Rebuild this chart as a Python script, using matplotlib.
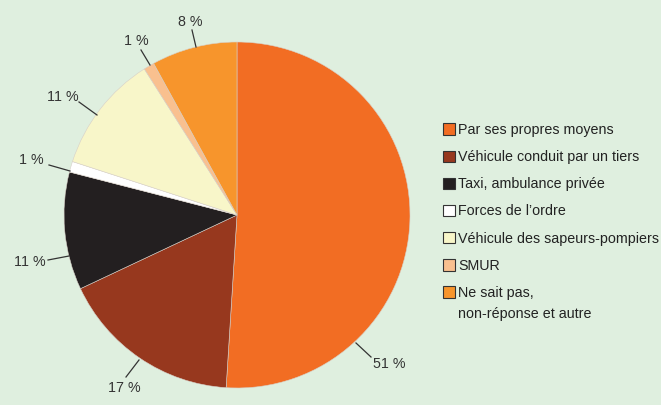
import matplotlib
matplotlib.use("Agg")
import matplotlib.pyplot as plt
from matplotlib.patches import Patch

plt.rcParams["font.family"] = ["Liberation Sans", "DejaVu Sans"]

# ── data ──────────────────────────────────────────────────────────────────────
CATEGORIES = [
    "Par ses propres moyens",
    "Véhicule conduit par un tiers",
    "Taxi, ambulance privée",
    "Forces de l\u2019ordre",
    "Véhicule des sapeurs-pompiers",
    "SMUR",
    "Ne sait pas,\nnon-réponse et autre",
]
SHARES = [51, 17, 11, 1, 11, 1, 8]
LABELS = ["51 %", "17 %", "11 %", "1 %", "11 %", "1 %", "8 %"]
COLORS = ["#f26d23", "#97381e", "#231f20", "#ffffff", "#f8f6c9", "#f9c08f", "#f7952c"]

BG = "#dfefdf"
W, H = 661, 405
CX, CY, R = 237, 215, 173  # pie centre / radius in pixels
FS = 10.3

# leader lines (pixel coords): rim point, outer point, text anchor, alignment
LEADERS = [
    ((356, 343), (371, 357), (373, 364), "left"),
    ((139, 360), (126, 377), (124, 388), "center"),
    ((69, 256), (48, 260), (46, 262), "right"),
    ((70, 171), (49, 165), (44, 160), "right"),
    ((97, 115), (79, 102), (79, 97), "right"),
    ((150, 65), (141, 50), (136, 41), "center"),
    ((196, 47), (192, 30), (190, 22), "center"),
]


def to_data(p):
    return (p[0] - CX) / R, (CY - p[1]) / R


fig = plt.figure(figsize=(W / 100, H / 100), dpi=100, facecolor=BG)
ax = fig.add_axes([(CX - R) / W, (H - CY - R) / H, 2 * R / W, 2 * R / H])
ax.set_facecolor(BG)

ax.pie(SHARES, colors=COLORS, startangle=90, counterclock=False, radius=1,
       wedgeprops=dict(linewidth=0.4, edgecolor="#d8d0c8"))
ax.set_xlim(-1, 1)
ax.set_ylim(-1, 1)
ax.set_aspect("auto")
ax.axis("off")

for (rim, out, txt, ha), lab in zip(LEADERS, LABELS):
    x0, y0 = to_data(rim)
    x1, y1 = to_data(out)
    ax.plot([x0, x1], [y0, y1], color="#333333", linewidth=0.9, clip_on=False)
    tx, ty = to_data(txt)
    ax.text(tx, ty, lab, ha=ha, va="center", fontsize=FS, color="#333333", clip_on=False)

# legend: first line of each label in the legend, wrapped remainder below
first_lines = [c.split("\n")[0] for c in CATEGORIES]
handles = [Patch(facecolor=c, edgecolor="#333333", linewidth=0.8) for c in COLORS]
leg = fig.legend(handles, first_lines, loc="upper left",
                 bbox_to_anchor=(443 / W, 1 - 123 / H),
                 frameon=False, fontsize=FS, handlelength=0.85, handleheight=0.85,
                 handletextpad=0.2, labelspacing=0.92, borderpad=0, borderaxespad=0)
for t in leg.get_texts():
    t.set_color("#222222")

fig.canvas.draw()
for cat, t in zip(CATEGORIES, leg.get_texts()):
    rest = cat.split("\n")[1:]
    if rest:
        bb = t.get_window_extent()
        fig.text(bb.x0 / W, (bb.y0 - 21) / H, "\n".join(rest), fontsize=FS,
                 color="#222222", ha="left", va="bottom")

fig.savefig("out.png", dpi=100, facecolor=BG)
